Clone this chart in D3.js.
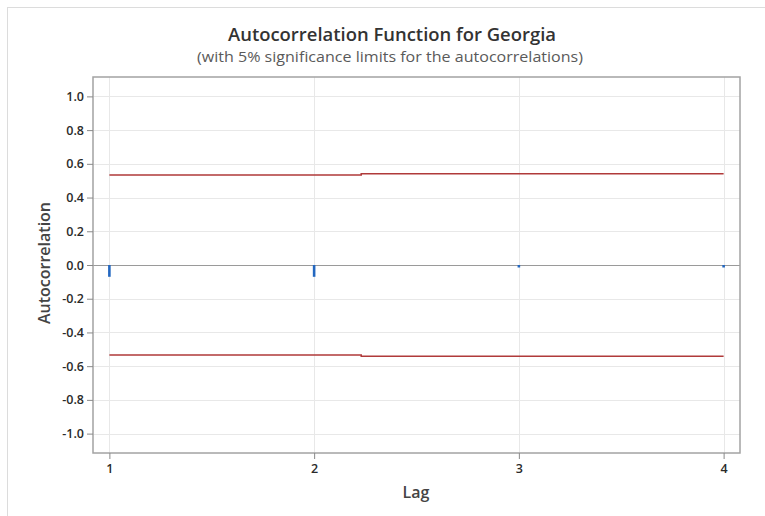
<!DOCTYPE html>
<html>
<head>
<meta charset="utf-8">
<script src="https://cdn.jsdelivr.net/npm/d3@7"></script>
<style>
  body { margin: 0; background: #fff; }
  svg { display: block; }
  text { font-family: "Open Sans", "Noto Sans", sans-serif; }
</style>
</head>
<body>
<svg id="chart" width="765" height="516"></svg>
<script>
// ---- data ----
const lags = [1, 2, 3, 4];
const acf = [-0.07, -0.07, -0.004, -0.007];
const upperLimit = [0.534, 0.534, 0.541, 0.541];
const lowerLimit = [-0.534, -0.534, -0.541, -0.541];
const limitX = [1, 2.23, 2.23, 4];
const yTicks = [1.0, 0.8, 0.6, 0.4, 0.2, 0.0, -0.2, -0.4, -0.6, -0.8, -1.0];
const xTicks = [1, 2, 3, 4];
const title = "Autocorrelation Function for Georgia";
const subtitle = "(with 5% significance limits for the autocorrelations)";

const svg = d3.select("#chart");
const L = 93, R = 740, T = 77, B = 453;

const x = d3.scaleLinear().domain([0.92, 4.08]).range([L, R]);
const y = d3.scaleLinear().domain([-1.115, 1.115]).range([B, T]);

// outer frame
svg.append("rect").attr("x", 7.5).attr("y", 7.5).attr("width", 800).attr("height", 600)
  .attr("fill", "none").attr("stroke", "#dcdcdc").attr("stroke-width", 1);

// titles
svg.append("text").attr("x", 392).attr("y", 41).attr("text-anchor", "middle")
  .attr("font-size", 18).attr("font-weight", 600).attr("fill", "#333")
  .attr("textLength", 328).attr("lengthAdjust", "spacingAndGlyphs").text(title);
svg.append("text").attr("x", 390).attr("y", 62).attr("text-anchor", "middle")
  .attr("font-size", 15).attr("fill", "#5a5a5a")
  .attr("textLength", 386).attr("lengthAdjust", "spacingAndGlyphs").text(subtitle);

// gridlines
const g = svg.append("g");
g.selectAll("line.hg").data(yTicks).enter().append("line")
  .attr("x1", L).attr("x2", R).attr("y1", d => Math.round(y(d)) + 0.5).attr("y2", d => Math.round(y(d)) + 0.5)
  .attr("stroke", "#e8e8e8").attr("stroke-width", 1);
g.selectAll("line.vg").data(xTicks).enter().append("line")
  .attr("y1", T).attr("y2", B).attr("x1", d => Math.round(x(d)) + 0.5).attr("x2", d => Math.round(x(d)) + 0.5)
  .attr("stroke", "#e8e8e8").attr("stroke-width", 1);

// zero line
svg.append("line").attr("x1", L).attr("x2", R).attr("y1", Math.round(y(0)) + 0.5).attr("y2", Math.round(y(0)) + 0.5)
  .attr("stroke", "#9a9a9a").attr("stroke-width", 1.2);

// significance limits
const limLine = d3.line().x(d => x(d[0])).y(d => y(d[1]));
[upperLimit, lowerLimit].forEach(arr => {
  svg.append("path").datum(limitX.map((v, i) => [v, arr[i]]))
    .attr("d", limLine).attr("fill", "none").attr("stroke", "#b03a3a").attr("stroke-width", 1.5);
});

// ACF bars
svg.selectAll("line.bar").data(lags).enter().append("line")
  .attr("x1", (d) => x(d)).attr("x2", d => x(d))
  .attr("y1", y(0)).attr("y2", (d, i) => Math.max(y(acf[i]), y(0) + 2.5))
  .attr("stroke", "#2367c0").attr("stroke-width", 2.6);

// frame
svg.append("rect").attr("x", L).attr("y", T).attr("width", R - L).attr("height", B - T)
  .attr("fill", "none").attr("stroke", "#a3a3a3").attr("stroke-width", 1.5);

// axes
const yAxis = svg.append("g").attr("transform", `translate(${L},0)`)
  .call(d3.axisLeft(y).tickValues(yTicks).tickFormat(d => d.toFixed(1)).tickSize(6).tickPadding(3));
const xAxis = svg.append("g").attr("transform", `translate(0,${B})`)
  .call(d3.axisBottom(x).tickValues(xTicks).tickFormat(d3.format("d")).tickSize(6).tickPadding(5));
[yAxis, xAxis].forEach(a => {
  a.select(".domain").remove();
  a.selectAll(".tick line").attr("stroke", "#8a8a8a");
  a.selectAll(".tick text").attr("font-size", 12.5).attr("font-weight", 600).attr("fill", "#2a2a2a")
    .style("font-family", "'Open Sans', sans-serif");
});

// axis labels
svg.append("text").attr("transform", `translate(50,${263}) rotate(-90)`).attr("text-anchor", "middle")
  .attr("font-size", 16).attr("font-weight", 600).attr("fill", "#444").text("Autocorrelation");
svg.append("text").attr("x", 416).attr("y", 498).attr("text-anchor", "middle")
  .attr("font-size", 16).attr("font-weight", 600).attr("fill", "#444").text("Lag");
</script>
</body>
</html>
